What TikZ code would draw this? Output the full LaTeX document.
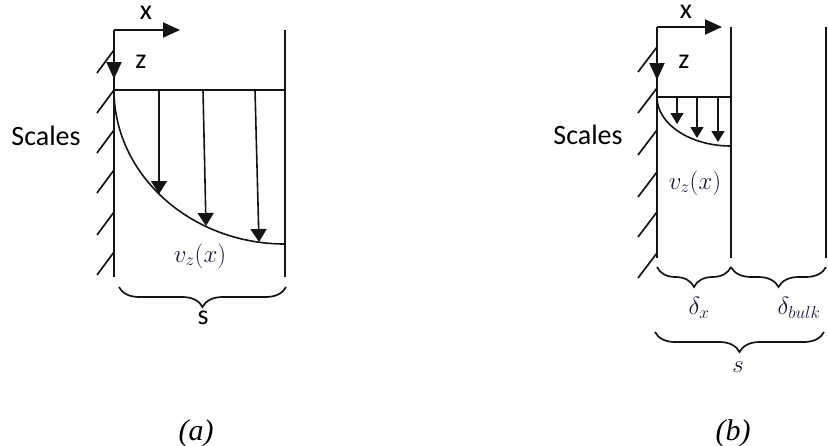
\documentclass[tikz,border=0pt]{standalone}
\usepackage{fontspec}
\setsansfont{Carlito}
\newfontfamily\captfont{Liberation Serif}
\usepackage{xcolor}
\usetikzlibrary{arrows.meta,positioning,decorations.pathreplacing}
\definecolor{wallblack}{RGB}{20,20,20}
\definecolor{mathnavy}{RGB}{22,26,56}

\begin{document}
\begin{tikzpicture}[
  x=1pt, y=-1pt,
  wall/.style={line width=2pt, color=wallblack},
  hatch/.style={line width=1.7pt, color=wallblack},
  thin line/.style={line width=1.6pt, color=wallblack},
  axis/.style={-{Triangle[length=17pt,width=15pt]}, line width=2pt, color=wallblack},
  flow/.style={-{Triangle[length=13pt,width=16pt]}, line width=1.6pt, color=wallblack},
  smallflow/.style={-{Triangle[length=11pt,width=13pt]}, line width=1.5pt, color=wallblack},
  brc/.style={decorate, decoration={brace, amplitude=20pt, mirror}, line width=1.7pt, color=wallblack},
  lbl/.style={font=\sffamily\fontsize{28}{30}\selectfont},
  axlbl/.style={lbl, anchor=base, inner sep=0pt},
  mlbl/.style={font=\fontsize{27}{30}\selectfont, text=mathnavy},
  capt/.style={font=\captfont\itshape\fontsize{30}{32}\selectfont, anchor=base}
]
\useasboundingbox (0,0) rectangle (828,445);

% ---------------- Panel (a) ----------------
\coordinate (oa) at (114,30);
\coordinate (xa) at (180,30);
\coordinate (za) at (114,79);
\coordinate (wa) at (114,277);
\coordinate (ra-top) at (285,30);
\coordinate (ra-bot) at (285,277);
\coordinate (ta-l) at (114,90);
\coordinate (ta-r) at (285,90);
\coordinate (ca-end) at (285,244);

% axes
\draw[axis] (oa) -- (xa);
\draw[axis] (oa) -- (za);
\node[axlbl] (xlab-a) at (146,19) {x};
\node[lbl] (zlab-a) at (141,62) {z};

% walls
\draw[wall] (oa) -- (wa);
\draw[wall] (ra-top) -- (ra-bot);
\foreach \t in {50,90,130,170,212,252}
  \draw[hatch] (97,\t+23) -- (114,\t);

% velocity profile
\draw[thin line] (ta-l) -- (ta-r);
\draw[thin line] (ta-l) .. controls (114,175) and (191,244) .. (ca-end);
\foreach \xs/\xe/\ye in {159/159/194, 203/206/226, 255/259/242}
  \draw[flow] (\xs,90) -- (\xe,\ye);

\node[lbl] (scales-a) at (46,136) {Scales};
\node[mlbl] (vz-a) at (200,256) {$v_z(x)$};

% width
\draw[brc] (119,287) -- (286,287);
\node[lbl] (s-a) at (203,318) {s};

\node[capt] (cap-a) at (196,440) {(a)};

% ---------------- Panel (b) ----------------
\coordinate (ob) at (657,27);
\coordinate (xb) at (722,27);
\coordinate (zb) at (657,80);
\coordinate (wb) at (657,258);
\coordinate (mb-top) at (731,27);
\coordinate (mb-bot) at (731,258);
\coordinate (rb-top) at (826,27);
\coordinate (rb-bot) at (826,258);
\coordinate (tb-l) at (657,97);
\coordinate (tb-r) at (731,97);
\coordinate (cb-end) at (731,146);

% axes
\draw[axis] (ob) -- (xb);
\draw[axis] (ob) -- (zb);
\node[axlbl] (xlab-b) at (686,18) {x};
\node[lbl] (zlab-b) at (684,62) {z};

% walls
\draw[wall] (ob) -- (wb);
\draw[wall] (mb-top) -- (mb-bot);
\draw[wall] (rb-top) -- (rb-bot);
\foreach \t in {47,88,130,172,212,253}
  \draw[hatch] (638,\t+25) -- (657,\t);

% velocity profile (boundary layer)
\draw[thin line] (tb-l) -- (tb-r);
\draw[thin line] (tb-l) .. controls (657,124) and (690,146) .. (cb-end);
\foreach \x/\ye in {677/124, 697/138, 718/142}
  \draw[smallflow] (\x,97) -- (\x,\ye);

\node[lbl] (scales-b) at (588,135) {Scales};
\node[mlbl] (vz-b) at (695,183) {$v_z(x)$};

% layer widths
\draw[brc] (657,267) -- (731,267);
\draw[brc] (731,267) -- (826,267);
\node[mlbl] (dx) at (699,308) {$\delta_x$};
\node[mlbl] (dbulk) at (799,308) {$\delta_{bulk}$};
\draw[brc] (655,332) -- (824,332);
\node[mlbl] (s-b) at (738,367) {$s$};

\node[capt] (cap-b) at (733,440) {(b)};

\end{tikzpicture}
\end{document}
